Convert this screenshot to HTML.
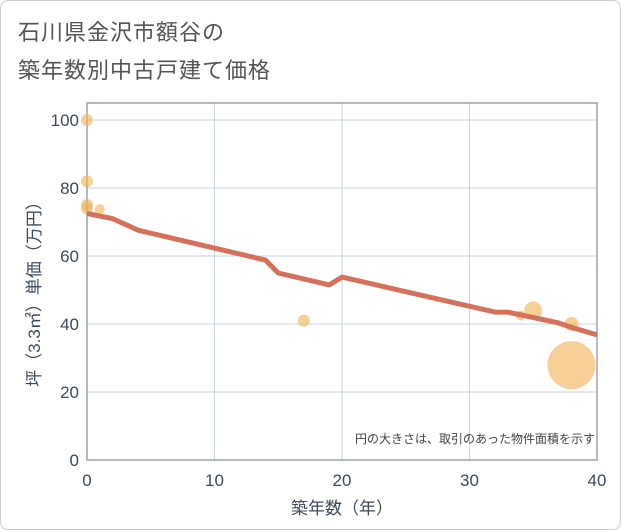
<!DOCTYPE html>
<html><head><meta charset="utf-8"><style>
body{margin:0;background:#fff;font-family:"Liberation Sans","Noto Sans CJK JP",sans-serif}
#wrap{position:relative;width:619px;height:528px;border:1px solid #ccc;border-radius:8px;background:#fff}
.t{position:absolute;left:17px;font-size:22px;color:#555;letter-spacing:1px}
</style></head><body>
<div id="wrap">
<div class="t" style="top:14px">石川県金沢市額谷の</div>
<div class="t" style="top:52px">築年数別中古戸建て価格</div>
<svg id="s" width="621" height="530" style="position:absolute;left:-1px;top:-1px"></svg>
</div>
<script>
const xTicks=[0,10,20,30,40];
const yTicks=[0,20,40,60,80,100];
const lineX=[0,2,4,14,15,19,20,32,33,37,38,40];
const lineY=[72.5,71,67.6,58.8,55,51.5,53.8,43.5,43.5,40.3,39,36.8];
const bubX=[0,0,0,0,1,17,34,35,38,38];
const bubY=[100,82,75,74,73.8,41,42.5,44,40,27.9];
const bubR=[6,6,6,6,5,6,5,9,7,24];
const ns="http://www.w3.org/2000/svg",s=document.getElementById('s');
const X=v=>87+v*12.75, Y=v=>460-v*3.4;
function el(t,a,p){const e=document.createElementNS(ns,t);for(const k in a)e.setAttribute(k,a[k]);(p||s).appendChild(e);return e;}
const bg=el('rect',{x:87,y:103,width:510,height:357,fill:'#fff'});


yTicks.forEach(v=>{const l=el('line',{x1:87,x2:597,y1:Y(v),y2:Y(v),stroke:'#c5d5e2','stroke-width':1});


const t=el('text',{x:79,y:Y(v)+6,'text-anchor':'end','font-size':17,fill:'#3d4a5c'});t.textContent=v;

});
xTicks.forEach(v=>{const l=el('line',{x1:X(v),x2:X(v),y1:103,y2:460,stroke:'#c5d5e2','stroke-width':1});


const t=el('text',{x:X(v),y:486,'text-anchor':'middle','font-size':17,fill:'#3d4a5c'});t.textContent=v;

});
const fr=el('rect',{x:87,y:103,width:510,height:357,fill:'none',stroke:'#9aa4ad','stroke-width':1.5});


bubX.forEach((v,i)=>{const c=el('circle',{cx:X(v),cy:Y(bubY[i]),r:bubR[i],fill:'#f0b050','fill-opacity':0.6});

});
const p=el('polyline',{points:lineX.map((v,i)=>X(v)+','+Y(lineY[i])).join(' '),fill:'none',stroke:'#d5705a','stroke-width':5,'stroke-linejoin':'round'});


const n=el('text',{x:595,y:443,'text-anchor':'end','font-size':12,fill:'#444'});n.textContent='円の大きさは、取引のあった物件面積を示す';


const xt=el('text',{x:342,y:514,'text-anchor':'middle','font-size':17,fill:'#3d4a5c'});xt.textContent='築年数（年）';


const yt=el('text',{x:0,y:0,'text-anchor':'middle','font-size':17,fill:'#3d4a5c',transform:'translate(40,290) rotate(-90)'});yt.textContent='坪（3.3㎡）単価（万円）';


</script>
</body></html>
